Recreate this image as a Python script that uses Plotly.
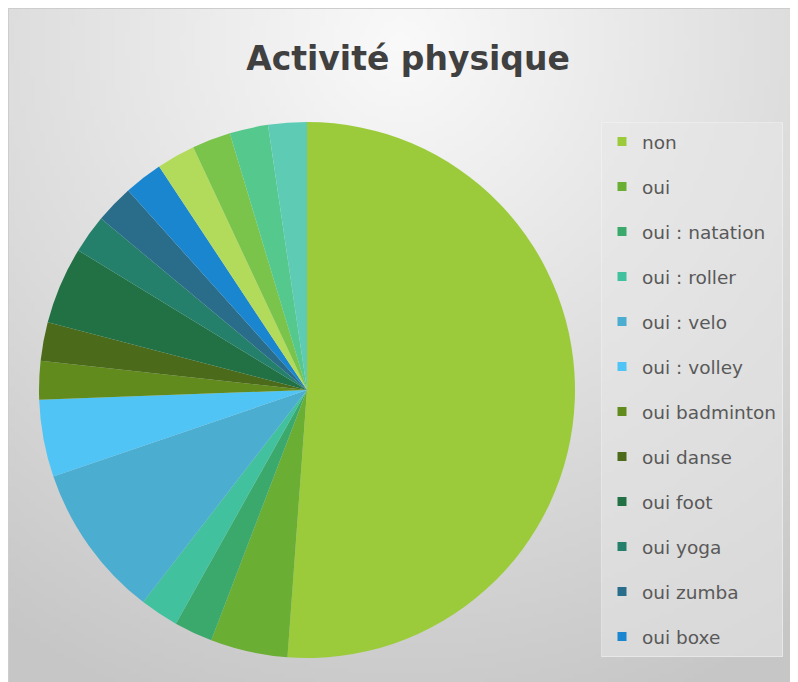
import base64
import struct
import zlib

import numpy as np
import plotly.graph_objects as go

# data (counts of answers, pie runs clockwise from 12 o'clock)
labels = [
    "non", "oui", "oui : natation", "oui : roller", "oui : velo", "oui : volley",
    "oui badminton", "oui danse", "oui foot", "oui yoga", "oui zumba", "oui boxe",
    "oui : autre 1", "oui : autre 2", "oui : autre 3", "oui : autre 4",
]
values = [22, 2, 1, 1, 4, 2, 1, 1, 2, 1, 1, 1, 1, 1, 1, 1]
colors = [
    "#9BCB3B", "#6BAE34", "#3CA96C", "#41C19D", "#4BADCF", "#50C4F4",
    "#628B1E", "#4B6B1A", "#227145", "#24806A", "#2A6D8A", "#1A86CF",
    "#B3DB5B", "#7AC44B", "#55C88D", "#5ECBB5",
]
n_legend = 12  # the legend box only shows the first twelve entries

W, H = 798, 682


def gradient_png(w, h):
    # soft radial grey background, light at the top centre
    yy, xx = np.mgrid[0:h, 0:w]
    px = xx / (w - 1) * W
    py = yy / (h - 1) * H
    d = np.sqrt((px - 392) ** 2 + (py - 32) ** 2)
    v = 250 - 52 * np.clip(d / 720, 0, 1)
    img = v.astype(np.uint8)
    raw = b"".join(b"\x00" + img[r].tobytes() for r in range(h))

    def chunk(tag, data):
        c = struct.pack(">I", len(data)) + tag + data
        return c + struct.pack(">I", zlib.crc32(tag + data) & 0xFFFFFFFF)

    png = b"\x89PNG\r\n\x1a\n"
    png += chunk(b"IHDR", struct.pack(">IIBBBBB", w, h, 8, 0, 0, 0, 0))
    png += chunk(b"IDAT", zlib.compress(raw, 9))
    png += chunk(b"IEND", b"")
    return "data:image/png;base64," + base64.b64encode(png).decode()


fig = go.Figure()
fig.add_trace(
    go.Pie(
        labels=labels,
        values=values,
        marker=dict(colors=colors, line=dict(width=0)),
        sort=False,
        direction="clockwise",
        rotation=0,
        textinfo="none",
        showlegend=False,
        domain=dict(x=[31 / W, 567 / W], y=[1 - 650 / H, 1 - 114 / H]),
    )
)

# legend entries as empty marker traces so the list can stop at twelve
for lab, col in zip(labels[:n_legend], colors[:n_legend]):
    fig.add_trace(
        go.Scatter(
            x=[None], y=[None], mode="markers", name=lab, legendgroup=lab,
            marker=dict(symbol="square", size=9, color=col),
        )
    )

fig.update_xaxes(visible=False)
fig.update_yaxes(visible=False)

fig.update_layout(
    width=W,
    height=H,
    margin=dict(l=0, r=0, t=0, b=0),
    paper_bgcolor="#e6e6e6",
    plot_bgcolor="rgba(0,0,0,0)",
    title=dict(
        text="<b>Activité physique</b>",
        x=400 / W,
        xanchor="center",
        y=1 - 50 / H,
        yanchor="middle",
        font=dict(family="DejaVu Sans", size=33, color="#404040"),
    ),
    legend=dict(
        x=593 / W,
        xanchor="left",
        y=1 - 114 / H,
        yanchor="top",
        traceorder="grouped",
        tracegroupgap=17.95,
        font=dict(family="DejaVu Sans", size=18.5, color="#595959"),
        bgcolor="rgba(232,232,232,0.55)",
        bordercolor="rgba(245,245,245,0.5)",
        borderwidth=1,
    ),
    images=[
        dict(
            source=gradient_png(160, 136),
            xref="paper", yref="paper",
            x=0, y=1,
            sizex=1, sizey=1,
            xanchor="left", yanchor="top",
            sizing="stretch",
            layer="below",
        )
    ],
    shapes=[
        dict(
            type="rect", xref="paper", yref="paper",
            x0=0.5 / W, x1=1.01, y0=-0.01, y1=1 - 0.5 / H,
            line=dict(color="#cdcdcd", width=1),
            layer="above",
        )
    ],
)

fig.write_html("out.html")
